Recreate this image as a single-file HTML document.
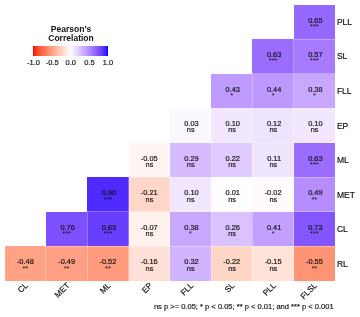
<!DOCTYPE html>
<html><head><meta charset="utf-8"><title>Correlation heatmap</title>
<style>
html,body{margin:0;padding:0;background:#fff;}
body{width:360px;height:317px;position:relative;overflow:hidden;filter:blur(0.35px);font-family:"Liberation Sans",sans-serif;color:#1a1a1a;-webkit-text-stroke:0.18px #111;}
.c{position:absolute;box-sizing:border-box;}
.bl::before{content:'';position:absolute;left:-0.5px;top:0;bottom:0;width:1px;background:rgba(255,255,255,0.3);}
.bt::after{content:'';position:absolute;top:-0.5px;left:0;right:0;height:1px;background:rgba(255,255,255,0.3);}
.p{padding-left:2px;}
.v{position:absolute;box-sizing:border-box;text-align:center;font-size:7.4px;line-height:7.4px;color:#111;}
.n{padding-left:0.5px;}
.s{-webkit-text-stroke:0;}
.rl{position:absolute;left:336.9px;font-size:8.5px;line-height:10px;color:#111;}
.xl{position:absolute;font-size:8.2px;line-height:10px;color:#111;white-space:nowrap;transform-origin:100% 0;transform:rotate(-45deg);}
.lt{position:absolute;left:21px;width:100px;text-align:center;-webkit-text-stroke:0;font-weight:bold;font-size:8.55px;line-height:9.2px;color:#111;top:25px;}
.lb{position:absolute;left:33.3px;top:46.3px;width:74.8px;height:9.5px;background:linear-gradient(to right,#ff0000 0.0%,#ff2913 2.5%,#ff3e22 5.0%,#ff4d2e 7.5%,#ff5b3a 10.0%,#ff6846 12.5%,#ff7352 15.0%,#ff7e5e 17.5%,#ff8969 20.0%,#ff9475 22.5%,#ff9e81 25.0%,#ffa88d 27.5%,#ffb299 30.0%,#ffbca6 32.5%,#ffc6b2 35.0%,#ffcfbf 37.5%,#ffd9cb 40.0%,#ffe2d8 42.5%,#ffece5 45.0%,#fff5f2 47.5%,#ffffff 50.0%,#f8f3ff 52.5%,#f2e7ff 55.0%,#ebdcff 57.5%,#e3d0ff 60.0%,#dcc4ff 62.5%,#d4b9ff 65.0%,#ccadff 67.5%,#c4a2ff 70.0%,#bc97ff 72.5%,#b38bff 75.0%,#aa80ff 77.5%,#a074ff 80.0%,#9569ff 82.5%,#8a5dff 85.0%,#7e52ff 87.5%,#7145ff 90.0%,#6239ff 92.5%,#502bff 95.0%,#381bff 97.5%,#0000ff 100.0%);}
.ll{position:absolute;top:58.2px;width:30px;margin-left:-15px;text-align:center;font-size:7.5px;line-height:9px;color:#222;}
.cap{position:absolute;right:26.3px;top:302px;font-size:7.55px;line-height:9px;color:#222;white-space:nowrap;}
</style></head><body>

<div class="c" style="left:293.73px;top:4.60px;width:41.29px;height:34.55px;background:#9569ff"></div>
<div class="c" style="left:252.44px;top:39.15px;width:41.29px;height:34.55px;background:#9a6dff"></div>
<div class="c bl bt" style="left:293.73px;top:39.15px;width:41.29px;height:34.55px;background:#a67bff"></div>
<div class="c" style="left:211.15px;top:73.70px;width:41.29px;height:34.55px;background:#bf9bff"></div>
<div class="c bl bt" style="left:252.44px;top:73.70px;width:41.29px;height:34.55px;background:#bd99ff"></div>
<div class="c bl bt" style="left:293.73px;top:73.70px;width:41.29px;height:34.55px;background:#c8a7ff"></div>
<div class="c" style="left:169.86px;top:108.25px;width:41.29px;height:34.55px;background:#fbf8ff"></div>
<div class="c bl bt" style="left:211.15px;top:108.25px;width:41.29px;height:34.55px;background:#f2e7ff"></div>
<div class="c bl bt" style="left:252.44px;top:108.25px;width:41.29px;height:34.55px;background:#efe3ff"></div>
<div class="c bl bt" style="left:293.73px;top:108.25px;width:41.29px;height:34.55px;background:#f2e7ff"></div>
<div class="c" style="left:128.57px;top:142.80px;width:41.29px;height:34.55px;background:#fff5f2"></div>
<div class="c bl bt" style="left:169.86px;top:142.80px;width:41.29px;height:34.55px;background:#d6bbff"></div>
<div class="c bl bt" style="left:211.15px;top:142.80px;width:41.29px;height:34.55px;background:#e0cbff"></div>
<div class="c bl bt" style="left:252.44px;top:142.80px;width:41.29px;height:34.55px;background:#f0e5ff"></div>
<div class="c bl bt" style="left:293.73px;top:142.80px;width:41.29px;height:34.55px;background:#9a6dff"></div>
<div class="c" style="left:87.28px;top:177.35px;width:41.29px;height:34.55px;background:#502bff"></div>
<div class="c bl bt" style="left:128.57px;top:177.35px;width:41.29px;height:34.55px;background:#ffd7c9"></div>
<div class="c bl bt" style="left:169.86px;top:177.35px;width:41.29px;height:34.55px;background:#f2e7ff"></div>
<div class="c bl bt" style="left:211.15px;top:177.35px;width:41.29px;height:34.55px;background:#fefdff"></div>
<div class="c bl bt" style="left:252.44px;top:177.35px;width:41.29px;height:34.55px;background:#fffbfa"></div>
<div class="c bl bt" style="left:293.73px;top:177.35px;width:41.29px;height:34.55px;background:#b58dff"></div>
<div class="c" style="left:45.99px;top:211.90px;width:41.29px;height:34.55px;background:#7c4fff"></div>
<div class="c bl bt" style="left:87.28px;top:211.90px;width:41.29px;height:34.55px;background:#683eff"></div>
<div class="c bl bt" style="left:128.57px;top:211.90px;width:41.29px;height:34.55px;background:#fff2ed"></div>
<div class="c bl bt" style="left:169.86px;top:211.90px;width:41.29px;height:34.55px;background:#c8a7ff"></div>
<div class="c bl bt" style="left:211.15px;top:211.90px;width:41.29px;height:34.55px;background:#dac2ff"></div>
<div class="c bl bt" style="left:252.44px;top:211.90px;width:41.29px;height:34.55px;background:#c3a0ff"></div>
<div class="c bl bt" style="left:293.73px;top:211.90px;width:41.29px;height:34.55px;background:#8356ff"></div>
<div class="c" style="left:4.70px;top:246.45px;width:41.29px;height:34.55px;background:#ffa286"></div>
<div class="c bl bt" style="left:45.99px;top:246.45px;width:41.29px;height:34.55px;background:#ffa084"></div>
<div class="c bl bt" style="left:87.28px;top:246.45px;width:41.29px;height:34.55px;background:#ff9a7c"></div>
<div class="c bl bt" style="left:128.57px;top:246.45px;width:41.29px;height:34.55px;background:#ffe0d6"></div>
<div class="c bl bt" style="left:169.86px;top:246.45px;width:41.29px;height:34.55px;background:#d1b4ff"></div>
<div class="c bl bt" style="left:211.15px;top:246.45px;width:41.29px;height:34.55px;background:#ffd5c6"></div>
<div class="c bl bt" style="left:252.44px;top:246.45px;width:41.29px;height:34.55px;background:#ffe2d8"></div>
<div class="c bl bt" style="left:293.73px;top:246.45px;width:41.29px;height:34.55px;background:#ff9475"></div>
<div class="v p" style="left:293.73px;top:17px;width:41.29px">0.65</div>
<div class="v s" style="left:293.73px;top:23px;width:41.29px">***</div>
<div class="v p" style="left:252.44px;top:51px;width:41.29px">0.63</div>
<div class="v s" style="left:252.44px;top:57px;width:41.29px">***</div>
<div class="v p" style="left:293.73px;top:51px;width:41.29px">0.57</div>
<div class="v s" style="left:293.73px;top:57px;width:41.29px">***</div>
<div class="v p" style="left:211.15px;top:86px;width:41.29px">0.43</div>
<div class="v s" style="left:211.15px;top:92px;width:41.29px">*</div>
<div class="v p" style="left:252.44px;top:86px;width:41.29px">0.44</div>
<div class="v s" style="left:252.44px;top:92px;width:41.29px">*</div>
<div class="v p" style="left:293.73px;top:86px;width:41.29px">0.38</div>
<div class="v s" style="left:293.73px;top:92px;width:41.29px">*</div>
<div class="v p" style="left:169.86px;top:120px;width:41.29px">0.03</div>
<div class="v n" style="left:169.86px;top:126px;width:41.29px">ns</div>
<div class="v p" style="left:211.15px;top:120px;width:41.29px">0.10</div>
<div class="v n" style="left:211.15px;top:126px;width:41.29px">ns</div>
<div class="v p" style="left:252.44px;top:120px;width:41.29px">0.12</div>
<div class="v n" style="left:252.44px;top:126px;width:41.29px">ns</div>
<div class="v p" style="left:293.73px;top:120px;width:41.29px">0.10</div>
<div class="v n" style="left:293.73px;top:126px;width:41.29px">ns</div>
<div class="v" style="left:128.57px;top:155px;width:41.29px">-0.05</div>
<div class="v n" style="left:128.57px;top:161px;width:41.29px">ns</div>
<div class="v p" style="left:169.86px;top:155px;width:41.29px">0.29</div>
<div class="v n" style="left:169.86px;top:161px;width:41.29px">ns</div>
<div class="v p" style="left:211.15px;top:155px;width:41.29px">0.22</div>
<div class="v n" style="left:211.15px;top:161px;width:41.29px">ns</div>
<div class="v p" style="left:252.44px;top:155px;width:41.29px">0.11</div>
<div class="v n" style="left:252.44px;top:161px;width:41.29px">ns</div>
<div class="v p" style="left:293.73px;top:155px;width:41.29px">0.63</div>
<div class="v s" style="left:293.73px;top:161px;width:41.29px">***</div>
<div class="v p" style="left:87.28px;top:189px;width:41.29px">0.90</div>
<div class="v s" style="left:87.28px;top:196px;width:41.29px">***</div>
<div class="v" style="left:128.57px;top:189px;width:41.29px">-0.21</div>
<div class="v n" style="left:128.57px;top:196px;width:41.29px">ns</div>
<div class="v p" style="left:169.86px;top:189px;width:41.29px">0.10</div>
<div class="v n" style="left:169.86px;top:196px;width:41.29px">ns</div>
<div class="v p" style="left:211.15px;top:189px;width:41.29px">0.01</div>
<div class="v n" style="left:211.15px;top:196px;width:41.29px">ns</div>
<div class="v" style="left:252.44px;top:189px;width:41.29px">-0.02</div>
<div class="v n" style="left:252.44px;top:196px;width:41.29px">ns</div>
<div class="v p" style="left:293.73px;top:189px;width:41.29px">0.49</div>
<div class="v s" style="left:293.73px;top:196px;width:41.29px">**</div>
<div class="v p" style="left:45.99px;top:224px;width:41.29px">0.76</div>
<div class="v s" style="left:45.99px;top:230px;width:41.29px">***</div>
<div class="v p" style="left:87.28px;top:224px;width:41.29px">0.83</div>
<div class="v s" style="left:87.28px;top:230px;width:41.29px">***</div>
<div class="v" style="left:128.57px;top:224px;width:41.29px">-0.07</div>
<div class="v n" style="left:128.57px;top:230px;width:41.29px">ns</div>
<div class="v p" style="left:169.86px;top:224px;width:41.29px">0.38</div>
<div class="v s" style="left:169.86px;top:230px;width:41.29px">*</div>
<div class="v p" style="left:211.15px;top:224px;width:41.29px">0.26</div>
<div class="v n" style="left:211.15px;top:230px;width:41.29px">ns</div>
<div class="v p" style="left:252.44px;top:224px;width:41.29px">0.41</div>
<div class="v s" style="left:252.44px;top:230px;width:41.29px">*</div>
<div class="v p" style="left:293.73px;top:224px;width:41.29px">0.73</div>
<div class="v s" style="left:293.73px;top:230px;width:41.29px">***</div>
<div class="v" style="left:4.70px;top:258px;width:41.29px">-0.48</div>
<div class="v s" style="left:4.70px;top:265px;width:41.29px">**</div>
<div class="v" style="left:45.99px;top:258px;width:41.29px">-0.49</div>
<div class="v s" style="left:45.99px;top:265px;width:41.29px">**</div>
<div class="v" style="left:87.28px;top:258px;width:41.29px">-0.52</div>
<div class="v s" style="left:87.28px;top:265px;width:41.29px">**</div>
<div class="v" style="left:128.57px;top:258px;width:41.29px">-0.16</div>
<div class="v n" style="left:128.57px;top:265px;width:41.29px">ns</div>
<div class="v p" style="left:169.86px;top:258px;width:41.29px">0.32</div>
<div class="v n" style="left:169.86px;top:265px;width:41.29px">ns</div>
<div class="v" style="left:211.15px;top:258px;width:41.29px">-0.22</div>
<div class="v n" style="left:211.15px;top:265px;width:41.29px">ns</div>
<div class="v" style="left:252.44px;top:258px;width:41.29px">-0.15</div>
<div class="v n" style="left:252.44px;top:265px;width:41.29px">ns</div>
<div class="v" style="left:293.73px;top:258px;width:41.29px">-0.55</div>
<div class="v s" style="left:293.73px;top:265px;width:41.29px">**</div>
<div class="rl" style="top:16.88px">PLL</div>
<div class="rl" style="top:51.42px">SL</div>
<div class="rl" style="top:85.97px">FLL</div>
<div class="rl" style="top:120.52px">EP</div>
<div class="rl" style="top:155.07px">ML</div>
<div class="rl" style="top:189.62px">MET</div>
<div class="rl" style="top:224.17px">CL</div>
<div class="rl" style="top:258.72px">RL</div>
<div class="xl" style="right:336.25px;top:281.00px">CL</div>
<div class="xl" style="right:294.96px;top:281.00px">MET</div>
<div class="xl" style="right:253.68px;top:281.00px">ML</div>
<div class="xl" style="right:212.38px;top:281.00px">EP</div>
<div class="xl" style="right:171.09px;top:281.00px">FLL</div>
<div class="xl" style="right:129.81px;top:281.00px">SL</div>
<div class="xl" style="right:88.52px;top:281.00px">PLL</div>
<div class="xl" style="right:47.23px;top:281.00px">FLSL</div>
<div class="lt">Pearson's<br>Correlation</div><div class="lb"></div>
<div class="ll" style="left:33.50px">-1.0</div>
<div class="ll" style="left:52.12px">-0.5</div>
<div class="ll" style="left:70.74px">0.0</div>
<div class="ll" style="left:89.36px">0.5</div>
<div class="ll" style="left:107.98px">1.0</div>
<div class="cap">ns p &gt;= 0.05; * p &lt; 0.05; ** p &lt; 0.01; and *** p &lt; 0.001</div>
</body></html>
